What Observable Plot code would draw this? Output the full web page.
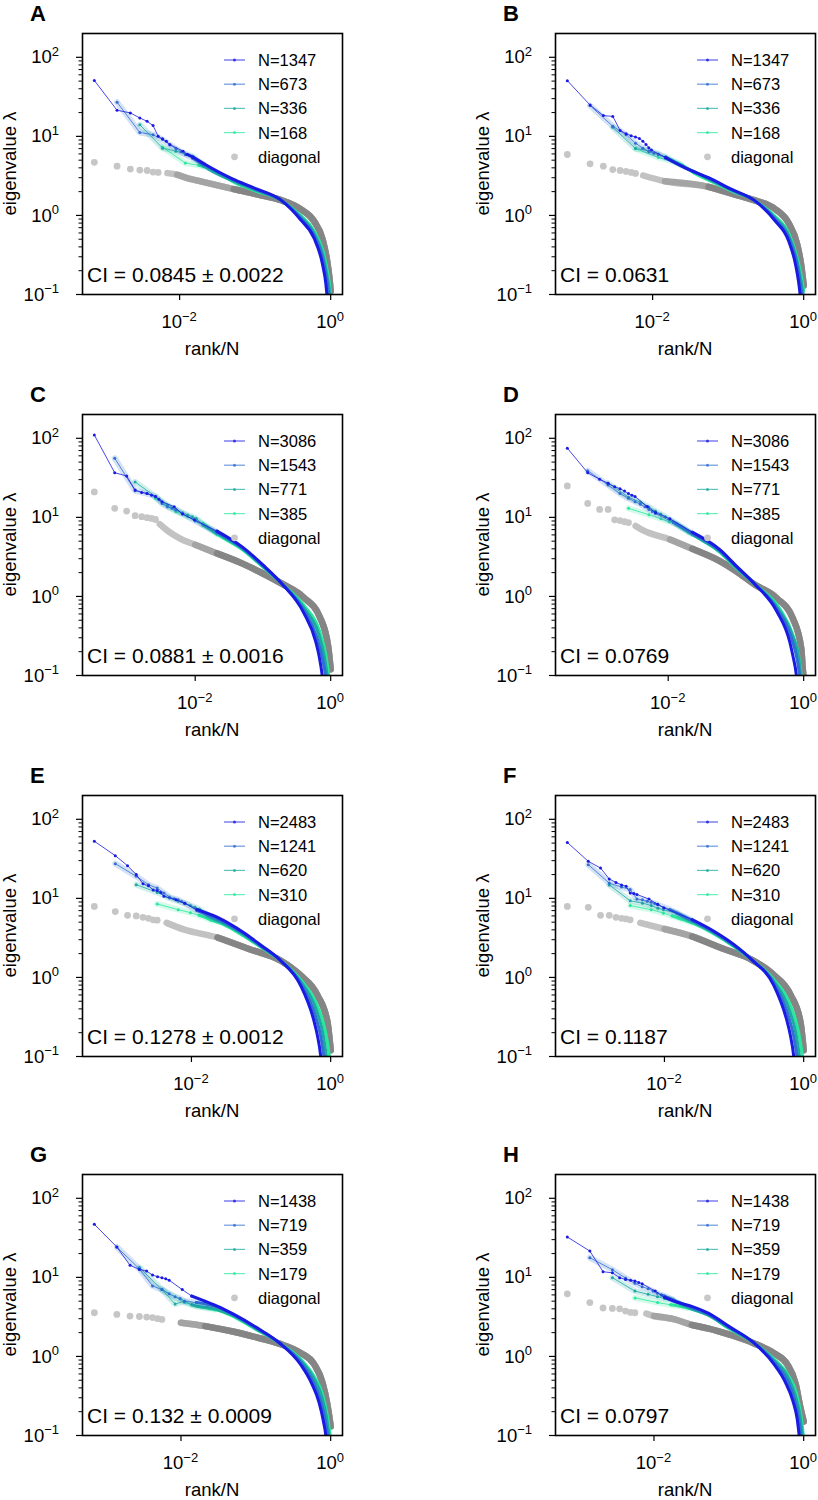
<!DOCTYPE html>
<html><head><meta charset="utf-8">
<script src="https://cdn.jsdelivr.net/npm/d3@7"></script>
<script src="https://cdn.jsdelivr.net/npm/@observablehq/plot@0.6"></script>
<style>
html,body{margin:0;padding:0;background:#fff;}
#fig{position:relative;width:818px;height:1500px;overflow:hidden;font-family:"Liberation Sans",Arial,sans-serif;}
.panel{position:absolute;}
</style></head><body><div id="fig"></div>
<script>
// ---------------- DATA ----------------
// heads: eigenvalue for rank 1,2,3,... (x = rank/N); tails: [rank/N, eigenvalue]
const A_N = [1347, 673, 336, 168];
const A_heads = [[51,21.4,19.8,17.1,15.5,13.7,10.0,9.3,8.65,7.9],[27,11.2,10.5,9.1,7.8,7.0,6.4,5.9],[14,7.1,6.5,6.0,5.6],[7.3,4.6,4.3,4.0]];
const A_tails = [
 [[0.0111,6.5],[0.0126,5.9],[0.0148,5.5],[0.021,4.5],[0.05,2.9],[0.1,2.2],[0.22,1.56],[0.4,0.88],[0.6,0.52],[0.78,0.24],[0.86,0.14],[0.9,0.09],[0.95,0.05]],
 [[0.0149,5.3],[0.021,4.4],[0.05,2.85],[0.1,2.15],[0.22,1.56],[0.4,0.92],[0.6,0.56],[0.8,0.26],[0.9,0.14],[0.96,0.08],[1.0,0.06]],
 [[0.021,4.2],[0.05,2.75],[0.1,2.1],[0.22,1.56],[0.4,0.96],[0.6,0.6],[0.8,0.3],[0.92,0.15],[0.98,0.1],[1.0,0.08]],
 [[0.036,3.3],[0.05,2.7],[0.1,2.05],[0.22,1.56],[0.4,1.0],[0.6,0.64],[0.8,0.34],[0.92,0.18],[0.98,0.12],[1.0,0.1]]];
const A_diagHead = [4.7,4.2,3.86,3.75,3.7,3.54,3.5];
const A_diagTail = [[0.0069,3.43],[0.0093,3.27],[0.0126,2.97],[0.019,2.7],[0.052,2.15],[0.12,1.8],[0.22,1.56],[0.4,1.2],[0.6,0.85],[0.78,0.5],[0.9,0.26],[0.97,0.15],[1.0,0.11]];
const A_CI = "CI = 0.0845 ± 0.0022";

const B_N = [1347, 673, 336, 168];
const B_heads = [[50.7,24.9,18.3,17.9,11.9,10.8,10.2,9.8,9.4,8.7,7.9,7.2,6.7],[24.5,13.4,10.5,8.2,7.1,6.4,6.1,5.9],[13.0,7.0,6.6,6.0,5.5],[7.0,5.4,4.9,4.4]];
const B_tails = [
 [[0.0148,5.4],[0.027,4.0],[0.055,3.0],[0.11,2.15],[0.22,1.56],[0.42,0.85],[0.63,0.48],[0.78,0.24],[0.86,0.14],[0.92,0.08]],
 [[0.015,5.3],[0.03,3.8],[0.055,2.95],[0.11,2.12],[0.22,1.56],[0.42,0.89],[0.63,0.52],[0.8,0.26],[0.9,0.14],[0.97,0.08]],
 [[0.024,4.3],[0.055,2.9],[0.11,2.1],[0.22,1.56],[0.42,0.93],[0.63,0.56],[0.8,0.29],[0.92,0.15],[1.0,0.09]],
 [[0.036,3.4],[0.055,2.8],[0.11,2.05],[0.22,1.56],[0.42,0.97],[0.63,0.6],[0.8,0.32],[0.93,0.17],[1.0,0.11]]];
const B_diagHead = [5.9,4.5,4.2,3.8,3.7,3.6,3.5,3.4];
const B_diagTail = [[0.0075,3.2],[0.0146,2.7],[0.055,2.3],[0.12,1.85],[0.22,1.56],[0.42,1.2],[0.63,0.8],[0.82,0.43],[0.93,0.23],[1.0,0.13]];
const B_CI = "CI = 0.0631";

const C_N = [3086, 1543, 771, 385];
const C_heads = [[110,36.7,33.4,22.2,20.7,20,19.1,18.3,17.0,15.8],[56,21.7,20,18.3,15,13.6,13.0,12.4],[28,18.3,14.3,12.6,11.4,10.7,10.2,9.7],[17.4,11.8,10.2,9.3,8.4]];
const C_tails = [
 [[0.0049,13.6],[0.0065,11.0],[0.0097,9.3],[0.021,6.7],[0.05,4.2],[0.1,2.5],[0.19,1.45],[0.4,0.62],[0.6,0.27],[0.68,0.17],[0.75,0.1],[0.8,0.06]],
 [[0.0065,11.2],[0.01,9.0],[0.021,6.5],[0.05,4.1],[0.1,2.45],[0.19,1.45],[0.4,0.67],[0.62,0.31],[0.75,0.17],[0.84,0.1],[0.9,0.06]],
 [[0.013,8.0],[0.021,6.3],[0.05,4.0],[0.1,2.4],[0.19,1.45],[0.41,0.7],[0.66,0.34],[0.8,0.18],[0.89,0.1],[0.95,0.07]],
 [[0.021,6.1],[0.05,3.9],[0.1,2.35],[0.19,1.45],[0.42,0.74],[0.69,0.36],[0.84,0.19],[0.94,0.1],[1.0,0.07]]];
const C_diagHead = [21,13,12,10.5,10.2,9.9,9.7,9.4];
const C_diagTail = [[0.003,8.2],[0.0038,6.9],[0.006,5.4],[0.01,4.5],[0.021,3.5],[0.05,2.6],[0.1,1.95],[0.19,1.45],[0.4,0.97],[0.69,0.55],[0.92,0.23],[1.0,0.12]];
const C_CI = "CI = 0.0881 ± 0.0016";

const D_N = [3086, 1543, 771, 385];
const D_heads = [[75,36.7,30.3,27,24.4,23,21.5,20,19,18.3],[39,25.6,20,17.4,15.8,14.7,13.6,12.6,11.9,11.2],[27,18,15.5,13.5,12,11,10.2,9.5,8.9,8.4],[13.0,10.8,9.6,8.8,8.2]];
const D_tails = [
 [[0.0049,13.7],[0.0065,11.5],[0.0106,9.6],[0.0226,6.5],[0.058,3.9],[0.1,2.45],[0.19,1.43],[0.4,0.65],[0.62,0.27],[0.7,0.17],[0.78,0.1],[0.82,0.06]],
 [[0.012,8.6],[0.0226,6.3],[0.058,3.8],[0.1,2.4],[0.19,1.43],[0.41,0.68],[0.66,0.3],[0.8,0.16],[0.87,0.1],[0.92,0.06]],
 [[0.018,7.0],[0.0226,6.1],[0.058,3.7],[0.1,2.35],[0.19,1.43],[0.42,0.7],[0.68,0.32],[0.84,0.17],[0.9,0.1],[0.96,0.06]],
 [[0.02,6.5],[0.058,3.6],[0.1,2.3],[0.19,1.43],[0.44,0.71],[0.69,0.33],[0.84,0.18],[0.92,0.1],[0.98,0.07]]];
const D_diagHead = [25,15,12.6,12.6,9.3,9.1,8.8,8.6];
const D_diagTail = [[0.0033,7.8],[0.0042,6.9],[0.0106,5.25],[0.0226,4.0],[0.058,2.8],[0.1,2.1],[0.19,1.41],[0.4,0.95],[0.69,0.53],[0.92,0.22],[0.97,0.12],[1.0,0.09]];
const D_CI = "CI = 0.0769";

const E_N = [2483, 1241, 620, 310];
const E_heads = [[52.8,34.7,25.9,20,15.3,14.4,12.8,12.6,11.9,10.6],[27.5,19,14.9,13.5,11.7,10.4,9.9,9.6,9.1,8.7],[14.9,11.9,10.1,9.2,8.6,8.1,7.7,7.3],[8.5,7.2,6.6,6.1,5.7,5.3]];
const E_tails = [
 [[0.006,9.6],[0.008,8.7],[0.012,7.2],[0.0237,5.75],[0.056,3.7],[0.1,2.55],[0.19,1.64],[0.37,0.79],[0.57,0.29],[0.64,0.19],[0.72,0.1],[0.76,0.06]],
 [[0.012,7.0],[0.0237,5.5],[0.056,3.6],[0.1,2.5],[0.19,1.64],[0.37,0.84],[0.6,0.33],[0.72,0.18],[0.8,0.1],[0.86,0.06]],
 [[0.018,5.9],[0.0237,5.25],[0.056,3.5],[0.1,2.45],[0.19,1.64],[0.37,0.89],[0.62,0.39],[0.78,0.19],[0.87,0.1],[0.93,0.06]],
 [[0.03,4.6],[0.056,3.35],[0.1,2.4],[0.19,1.64],[0.37,0.94],[0.64,0.44],[0.8,0.25],[0.9,0.15],[0.96,0.1],[1.0,0.07]]];
const E_diagHead = [7.9,6.8,6.1,6.0,5.75,5.6,5.35,5.3];
const E_diagTail = [[0.0044,4.9],[0.0077,4.05],[0.0237,3.2],[0.07,2.26],[0.19,1.64],[0.37,1.06],[0.65,0.59],[0.9,0.27],[1.0,0.12]];
const E_CI = "CI = 0.1278 ± 0.0012";

const F_N = [2483, 1241, 620, 310];
const F_heads = [[51,29.4,24.2,17.6,15.9,14.8,14.2,11.7,11.5,11.2],[26.7,15.6,13.9,12.9,9.8,9.6,9.2,8.9,8.6,8.3],[14.8,9.3,8.7,8.1,7.5,7.2],[8.1,7.2,6.5,6.0,5.6]];
const F_tails = [
 [[0.006,9.8],[0.008,8.4],[0.0098,7.6],[0.025,5.4],[0.05,3.9],[0.1,2.6],[0.18,1.67],[0.37,0.8],[0.57,0.29],[0.64,0.19],[0.72,0.1],[0.76,0.06]],
 [[0.012,7.2],[0.025,5.25],[0.05,3.8],[0.1,2.55],[0.18,1.67],[0.37,0.85],[0.6,0.33],[0.72,0.18],[0.8,0.1],[0.86,0.06]],
 [[0.015,6.5],[0.025,5.1],[0.05,3.7],[0.1,2.5],[0.18,1.67],[0.37,0.9],[0.62,0.39],[0.78,0.19],[0.87,0.1],[0.93,0.06]],
 [[0.025,4.9],[0.05,3.6],[0.1,2.45],[0.18,1.67],[0.37,0.95],[0.64,0.45],[0.8,0.25],[0.9,0.15],[0.96,0.1],[1.0,0.07]]];
const F_diagHead = [7.9,7.7,6.1,6.1,5.75,5.6,5.5,5.35];
const F_diagTail = [[0.0045,4.9],[0.01,4.1],[0.025,3.3],[0.07,2.3],[0.18,1.67],[0.37,1.08],[0.65,0.6],[0.9,0.27],[1.0,0.12]];
const F_CI = "CI = 0.1187";

const G_N = [1438, 719, 359, 179];
const G_heads = [[46.9,24.2,14.2,12.6,12.0,10.7,10.2,9.9,9.6,9.2],[24.2,12.8,7.8,7.0,6.2,5.7,5.4,5.0],[13.3,7.0,4.6,5.0,4.5,4.3],[7.0,4.8,4.3,4.1,3.9,3.75]];
const G_tails = [
 [[0.0104,7.0],[0.0139,5.8],[0.0209,5.0],[0.031,4.3],[0.051,3.4],[0.1,2.35],[0.205,1.49],[0.4,0.78],[0.56,0.45],[0.7,0.26],[0.8,0.15],[0.86,0.1],[0.9,0.06]],
 [[0.016,4.8],[0.024,4.5],[0.031,4.2],[0.051,3.35],[0.1,2.3],[0.205,1.49],[0.4,0.83],[0.58,0.48],[0.72,0.29],[0.84,0.16],[0.91,0.1],[0.96,0.06]],
 [[0.024,4.1],[0.031,3.9],[0.051,3.25],[0.1,2.25],[0.205,1.49],[0.4,0.88],[0.6,0.52],[0.76,0.31],[0.87,0.18],[0.95,0.1],[1.0,0.07]],
 [[0.045,3.35],[0.1,2.2],[0.205,1.49],[0.4,0.92],[0.6,0.56],[0.78,0.33],[0.89,0.19],[0.96,0.12],[1.0,0.09]]];
const G_diagHead = [3.57,3.4,3.24,3.2,3.15,3.1,3.0,2.94];
const G_diagTail = [[0.01,2.67],[0.021,2.42],[0.051,2.05],[0.1,1.75],[0.205,1.45],[0.4,1.1],[0.6,0.8],[0.78,0.46],[0.9,0.25],[0.97,0.16],[1.0,0.13]];
const G_CI = "CI = 0.132 ± 0.0009";

const H_N = [1438, 719, 359, 179];
const H_heads = [[32.4,21.5,11.8,11.4,9.9,9.4,9.2,9.0,8.6,8.3],[17.7,12.5,9.8,8.4,7.6,7.2,6.7,6.3,6.0,5.8],[9.9,6.7,6.1,5.7,5.4,5.3],[5.5,4.8,4.5,4.3,4.1]];
const H_tails = [
 [[0.0104,6.7],[0.0139,5.6],[0.021,4.8],[0.032,4.3],[0.054,3.5],[0.1,2.4],[0.215,1.49],[0.4,0.8],[0.57,0.47],[0.72,0.27],[0.82,0.16],[0.87,0.1],[0.92,0.06]],
 [[0.018,5.2],[0.032,4.15],[0.054,3.4],[0.1,2.35],[0.215,1.49],[0.4,0.85],[0.6,0.5],[0.75,0.29],[0.86,0.16],[0.92,0.1],[0.97,0.06]],
 [[0.025,4.4],[0.032,4.0],[0.054,3.3],[0.1,2.3],[0.215,1.49],[0.4,0.89],[0.62,0.54],[0.78,0.31],[0.89,0.18],[0.95,0.11],[1.0,0.07]],
 [[0.04,3.7],[0.054,3.3],[0.1,2.25],[0.215,1.49],[0.4,0.93],[0.62,0.58],[0.8,0.34],[0.91,0.19],[0.97,0.12],[1.0,0.09]]];
const H_diagHead = [6.2,4.8,4.1,4.05,4.0,3.75,3.6,3.57];
const H_diagTail = [[0.0079,3.47],[0.01,3.24],[0.019,2.94],[0.032,2.5],[0.054,2.25],[0.1,1.9],[0.215,1.47],[0.4,1.1],[0.6,0.8],[0.78,0.45],[0.9,0.23],[1.0,0.15]];
const H_CI = "CI = 0.0797";

const Y_MAJOR = [0.1, 1, 10, 100];
const X_MAJOR = [0.01, 1];
const DIAG_LABEL = "diagonal";

// ---------------- STYLE ----------------
const COLORS = ["#1a1ae2", "#2f6ed3", "#1ba9a2", "#28e89c"];
const FONT = '"Liberation Sans", Arial, sans-serif';
const W = 345, H = 370, ML = 82, MR = 3, MT = 33, MB = 76;

const yMinor = [];
for (const d of [0.1, 1, 10]) for (let k = 2; k <= 9; k++) yMinor.push(+(d * k).toPrecision(3));

function toPts(N, head, tail) {
  return head.map((v, i) => ({x: (i + 1) / N, y: v})).concat(tail.map(([x, y]) => ({x, y})));
}

function drawPanel(letter, Ns, heads, tails, dHead, dTail, ci, left, top) {
  const L = Math.log10(Ns[0]);
  const series = Ns.map((N, i) => toPts(N, heads[i], tails[i]));
  const diagH = dHead.map((v, i) => ({x: (i + 1) / Ns[0], y: v}));
  const diagT = dTail.map(([x, y]) => ({x, y}));
  const gopt = {x: "x", y: "y", strokeWidth: 6.5, strokeLinecap: "round", strokeLinejoin: "round", curve: "monotone-x", clip: true};
  const marks = [
    Plot.line(diagT, {...gopt, stroke: "#c2c2c2"}),
    Plot.line(diagT.filter(d => d.x >= 0.009), {...gopt, stroke: "#a4a4a4"}),
    Plot.line(diagT.filter(d => d.x >= 0.02), {...gopt, stroke: "#858585"}),
    Plot.dot(diagH, {x: "x", y: "y", r: 3.4, fill: "#c6c6c6", stroke: null})
  ];
  for (let i = 3; i >= 0; i--) {
    const s = series[i], c = COLORS[i];
    if (i > 0) marks.push(Plot.line(s.filter(d => d.x < 0.03), {x: "x", y: "y", stroke: c, strokeOpacity: 0.2, strokeWidth: 6, strokeLinecap: "round", strokeLinejoin: "round"}));
    marks.push(Plot.line(s.filter(d => d.x >= 0.012), {x: "x", y: "y", stroke: c, strokeWidth: 3, strokeLinejoin: "round", strokeLinecap: "round", curve: "monotone-x", clip: true}));
    marks.push(Plot.line(s.filter(d => d.x < 0.03), {x: "x", y: "y", stroke: c, strokeWidth: 1, strokeOpacity: 0.8, clip: true}));
    marks.push(Plot.dot(s.filter(d => d.x < 0.022), {x: "x", y: "y", r: 1.5, fill: c, stroke: null}));
  }
  marks.push(Plot.axisY(Y_MAJOR, {tickSize: 6, tickFormat: () => "", strokeWidth: 1.2, label: null}));
  marks.push(Plot.axisY(yMinor, {tickSize: 3.5, tickFormat: () => "", strokeWidth: 1, label: null}));
  marks.push(Plot.axisX(X_MAJOR, {tickSize: 6, tickFormat: () => "", strokeWidth: 1.2, label: null}));
  marks.push(Plot.frame({stroke: "black", strokeWidth: 1.6}));

  const svg = Plot.plot({
    width: W, height: H, marginLeft: ML, marginRight: MR, marginTop: MT, marginBottom: MB,
    x: {type: "log", domain: [Math.pow(10, -1.05 * L), Math.pow(10, 0.05 * L)], label: null},
    y: {type: "log", domain: [0.1, 200], label: null},
    style: {fontFamily: FONT, overflow: "visible", background: "transparent"},
    marks
  });
  const sx = svg.scale("x"), sy = svg.scale("y");
  const g = d3.select(svg).append("g").attr("font-family", FONT).attr("fill", "black").attr("text-anchor", "start");
  const sup = e => (e < 0 ? "\u2212" + (-e) : "" + e);

  for (const v of Y_MAJOR) {
    const t = g.append("text").attr("x", 59).attr("y", sy.apply(v) + 6.6).attr("text-anchor", "end").attr("font-size", 18.5);
    t.append("tspan").text("10");
    t.append("tspan").attr("dy", -7.5).attr("font-size", 13).text(sup(Math.round(Math.log10(v))));
  }
  for (const v of X_MAJOR) {
    const t = g.append("text").attr("x", sx.apply(v)).attr("y", 328).attr("text-anchor", "middle").attr("font-size", 18.5);
    t.append("tspan").text("10");
    t.append("tspan").attr("dy", -7.5).attr("font-size", 13).text(sup(Math.round(Math.log10(v))));
  }
  const fr = W - MR;
  g.append("text").attr("x", (ML + fr) / 2).attr("y", 355).attr("text-anchor", "middle").attr("font-size", 18.5).text("rank/N");
  g.append("text").attr("transform", `translate(15.5,${(MT + H - MB) / 2}) rotate(-90)`).attr("text-anchor", "middle").attr("font-size", 18.5).text("eigenvalue \u03bb");
  Ns.forEach((N, i) => {
    const yy = MT + 27 + i * 24.2;
    g.append("line").attr("x1", fr - 118).attr("x2", fr - 97).attr("y1", yy).attr("y2", yy).attr("stroke", COLORS[i]).attr("stroke-opacity", 0.7).attr("stroke-width", 1.2);
    g.append("circle").attr("cx", fr - 107.5).attr("cy", yy).attr("r", 1.5).attr("fill", COLORS[i]).attr("fill-opacity", 0.8);
    g.append("text").attr("x", fr - 84).attr("y", yy + 6).attr("text-anchor", "start").attr("font-size", 16.5).text("N=" + N);
  });
  {
    const yy = MT + 27 + 4 * 24.2;
    g.append("circle").attr("cx", fr - 107.5).attr("cy", yy).attr("r", 3.4).attr("fill", "#c8c8c8");
    g.append("text").attr("x", fr - 84).attr("y", yy + 6).attr("text-anchor", "start").attr("font-size", 16.5).text(DIAG_LABEL);
  }
  g.append("text").attr("x", ML + 5).attr("y", H - MB - 12).attr("text-anchor", "start").attr("font-size", 21).text(ci);
  g.append("text").attr("x", 30).attr("y", 20.5).attr("text-anchor", "start").attr("font-size", 22).attr("font-weight", "bold").text(letter);

  const div = document.createElement("div");
  div.className = "panel";
  div.style.left = left + "px";
  div.style.top = top + "px";
  div.appendChild(svg);
  document.getElementById("fig").appendChild(div);
}

drawPanel("A", A_N, A_heads, A_tails, A_diagHead, A_diagTail, A_CI, 0, 0);
drawPanel("B", B_N, B_heads, B_tails, B_diagHead, B_diagTail, B_CI, 473, 0);
drawPanel("C", C_N, C_heads, C_tails, C_diagHead, C_diagTail, C_CI, 0, 381);
drawPanel("D", D_N, D_heads, D_tails, D_diagHead, D_diagTail, D_CI, 473, 381);
drawPanel("E", E_N, E_heads, E_tails, E_diagHead, E_diagTail, E_CI, 0, 762);
drawPanel("F", F_N, F_heads, F_tails, F_diagHead, F_diagTail, F_CI, 473, 762);
drawPanel("G", G_N, G_heads, G_tails, G_diagHead, G_diagTail, G_CI, 0, 1141);
drawPanel("H", H_N, H_heads, H_tails, H_diagHead, H_diagTail, H_CI, 473, 1141);
</script></body></html>
